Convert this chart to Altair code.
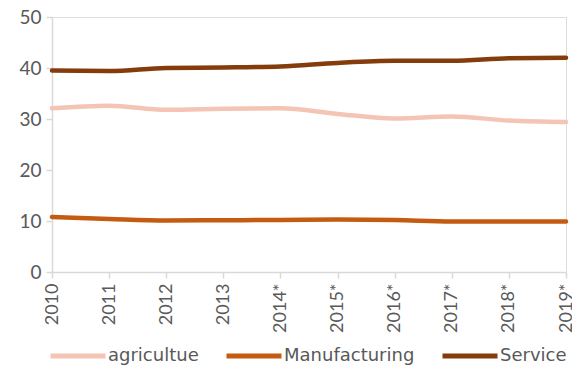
import altair as alt
import pandas as pd

# Share of employment by sector, 2010-2019 (* = estimate)
years = ["2010", "2011", "2012", "2013", "2014*", "2015*", "2016*", "2017*", "2018*", "2019*"]
agriculture = [32.1, 32.6, 31.8, 32.0, 32.1, 31.0, 30.1, 30.5, 29.7, 29.4]
manufacturing = [10.8, 10.4, 10.1, 10.15, 10.2, 10.3, 10.2, 9.9, 9.9, 9.9]
service = [39.5, 39.4, 40.0, 40.1, 40.3, 41.0, 41.4, 41.4, 41.9, 42.0]

series_names = ["agricultue", "Manufacturing", "Service"]
series_colors = ["#F4C5B4", "#C55A11", "#843C0C"]

rows = []
for name, values in zip(series_names, [agriculture, manufacturing, service]):
    for year, v in zip(years, values):
        rows.append({"year": year, "value": v, "sector": name})
df = pd.DataFrame(rows)

FONT = "Lato"
LEGEND_FONT = "DejaVu Sans"
GREY = "#595959"
AXIS_LINE = "#D9D9D9"

chart = (
    alt.Chart(df)
    .mark_line(strokeWidth=4.5, interpolate="monotone", strokeCap="round")
    .encode(
        x=alt.X(
            "year:N",
            sort=years,
            scale=alt.Scale(type="point", padding=0),
            axis=alt.Axis(
                title=None,
                labelAngle=270,
                labelAlign="right",
                labelBaseline="middle",
                labelFontSize=18,
                labelColor=GREY,
                labelFont=FONT,
                labelPadding=5,
                domainColor=AXIS_LINE,
                domainWidth=1.5,
                tickColor=AXIS_LINE,
                tickWidth=1.5,
                tickSize=6,
                grid=False,
            ),
        ),
        y=alt.Y(
            "value:Q",
            scale=alt.Scale(domain=[0, 50], nice=False),
            axis=alt.Axis(
                title=None,
                values=[0, 10, 20, 30, 40, 50],
                labelFontSize=19,
                labelColor=GREY,
                labelFont=FONT,
                labelPadding=5,
                domainColor=AXIS_LINE,
                domainWidth=1.5,
                tickColor=AXIS_LINE,
                tickWidth=1.5,
                tickSize=6,
                grid=False,
            ),
        ),
        color=alt.Color(
            "sector:N",
            scale=alt.Scale(domain=series_names, range=series_colors),
            legend=alt.Legend(
                title=None,
                orient="none",
                legendX=-4,
                legendY=309,
                direction="horizontal",
                symbolType="stroke",
                symbolSize=3025,
                symbolStrokeWidth=5,
                labelFontSize=18,
                labelColor=GREY,
                labelFont=LEGEND_FONT,
                labelOffset=0,
                columnPadding=17,
            ),
        ),
        order=alt.Order("sector:N"),
    )
    .properties(
        width=514,
        height=255,
        autosize=alt.AutoSizeParams(type="none"),
        padding={"left": 52, "top": 17, "right": 6, "bottom": 97},
    )
    .configure_view(stroke=None)
    .configure(font=FONT, background="white")
)

chart.save("out.html", embed_options={"renderer": "svg", "actions": False})
